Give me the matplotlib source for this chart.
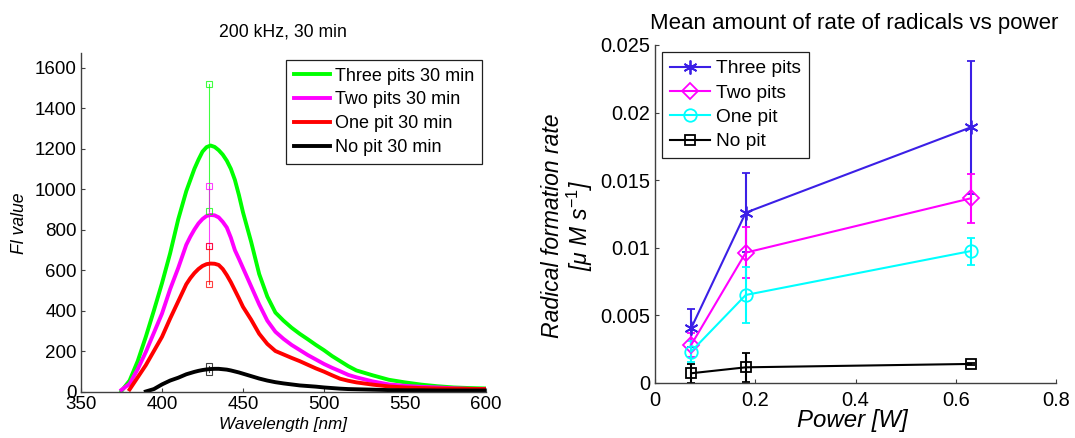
import numpy as np
import matplotlib
matplotlib.use('Agg')
import matplotlib.pyplot as plt

plt.rcParams['font.family'] = ['Liberation Sans', 'DejaVu Sans']
plt.rcParams['mathtext.fontset'] = 'custom'
plt.rcParams['mathtext.it'] = 'Liberation Sans:italic'
plt.rcParams['mathtext.rm'] = 'Liberation Sans'
plt.rcParams['mathtext.default'] = 'it'

# ---- left panel: emission spectra ----
wavelength = [370, 375, 380, 385, 390, 395, 400, 405, 410, 415, 417.5, 420, 422.5,
              425, 427.5, 430, 432.5, 435, 437.5, 440, 442.5, 445, 447.5, 450,
              455, 460, 465, 470, 475, 480, 485, 490, 495,
              500, 505, 510, 515, 520, 530, 540, 550, 560, 570, 580, 590, 600]
nan = np.nan
three_pits_30 = [nan, 3, 54, 150, 270, 400, 535, 682, 850, 990, 1045, 1100, 1145,
                 1185, 1207, 1215, 1208, 1192, 1170, 1140, 1100, 1045, 970, 885,
                 740, 580, 469, 390, 350, 315, 285, 258, 230,
                 204, 175, 150, 125, 104, 80, 58, 45, 34, 26, 20, 17, 15]
two_pits_30 = [nan, 8, 38, 110, 195, 290, 385, 505, 610, 725, 765, 800, 830,
               852, 867, 872, 870, 860, 838, 810, 760, 698, 655, 610,
               520, 430, 350, 295, 260, 230, 205, 180, 158,
               136, 117, 100, 82, 70, 50, 35, 28, 23, 20, 16, 13, 12]
one_pit_30 = [nan, nan, 10, 70, 130, 200, 270, 360, 445, 530, 560, 585, 605,
              620, 629, 632, 631, 625, 605, 575, 540, 500, 460, 418,
              355, 285, 235, 200, 183, 166, 150, 132, 114,
              98, 80, 63, 53, 45, 34, 25, 20, 17, 15, 14, 13, 12]
no_pit_30 = [nan, nan, nan, nan, 0, 12, 35, 54, 68, 85, 91, 97, 102,
             106, 109, 111, 112, 112, 110, 108, 104, 99, 94, 88,
             76, 64, 54, 46, 40, 35, 30, 27, 24,
             20, 17, 14, 12, 11, 9, 7, 6, 6, 5, 5, 5, 5]
spec_labels = ['Three pits 30 min', 'Two pits 30 min', 'One pit 30 min', 'No pit 30 min']
spec_colors = ['#00ff00', '#ff00ff', '#ff0000', '#000000']

# error bars at the peak
err_wl = 429
err_lo = [893, 718, 530, 94]
err_hi = [1519, 1017, 720, 124]

# ---- right panel: radical formation rate vs power ----
power = [0.072, 0.181, 0.63]
rate_three = [0.00404, 0.01260, 0.01891]
err_three = [0.00140, 0.00290, 0.00490]
rate_two = [0.00281, 0.00964, 0.01366]
err_two = [0.00090, 0.00190, 0.00182]
rate_one = [0.00232, 0.00651, 0.00976]
err_one = [0.00080, 0.00210, 0.00100]
rate_none = [0.00072, 0.00116, 0.00141]
err_none = [0.00070, 0.00108, 0.00010]
rate_labels = ['Three pits', 'Two pits', 'One pit', 'No pit']

W, H = 1075, 438
fig = plt.figure(figsize=(W / 100, H / 100), dpi=100)
spine_col = '#404040'


def style_axes(ax, ypad, xpad, size):
    for s in ['top', 'right']:
        ax.spines[s].set_visible(False)
    for s in ['left', 'bottom']:
        ax.spines[s].set_color(spine_col)
        ax.spines[s].set_linewidth(1.0)
    ax.tick_params(direction='in', length=3, width=0.8, color=spine_col,
                   labelsize=size)
    ax.tick_params(axis='y', pad=ypad)
    ax.tick_params(axis='x', pad=xpad)


# left axes
ax1 = fig.add_axes([81 / W, 1 - 391.5 / H, 405 / W, 338.5 / H])
ax1.set_xlim(350, 600)
ax1.set_ylim(0, 1672)
wl = np.array(wavelength)
for vals, lab, col in zip([three_pits_30, two_pits_30, one_pit_30, no_pit_30],
                          spec_labels, spec_colors):
    ax1.plot(wl, vals, color=col, lw=2.8, label=lab, solid_joinstyle='round')
for lo, hi, col in zip(err_lo, err_hi, spec_colors):
    ax1.plot([err_wl, err_wl], [lo, hi], color=col, lw=0.8, alpha=0.75,
             marker='s', ms=5, mfc='none', mew=0.8)
ax1.set_xticks([350, 400, 450, 500, 550, 600])
ax1.set_yticks(range(0, 1601, 200))
style_axes(ax1, 3, 3.5, 13.5)
leg1 = ax1.legend(loc='upper left', bbox_to_anchor=(286 / W, 1 - 60 / H),
                  bbox_transform=fig.transFigure, fontsize=13, fancybox=False,
                  edgecolor='#202020', framealpha=1, borderaxespad=0,
                  handlelength=2.0, handletextpad=0.3, labelspacing=0.38,
                  borderpad=0.42)
leg1.get_frame().set_linewidth(0.9)

fig.text(283 / W, 1 - 32 / H, '200 kHz, 30 min', ha='center', va='center', fontsize=12.7)
fig.text(283 / W, 1 - 425 / H, 'Wavelength [nm]', ha='center', va='center',
         fontsize=12.3, style='italic')
fig.text(19 / W, 1 - 223 / H, 'Fl value', ha='center', va='center', rotation=90,
         fontsize=12.7, style='italic')

# right axes
ax2 = fig.add_axes([655 / W, 1 - 383 / H, 401 / W, 338 / H])
ax2.set_xlim(0, 0.8)
ax2.set_ylim(0, 0.025)
series = [(rate_three, err_three, '#3b1fe6', (6, 2, 0), 10),
          (rate_two, err_two, '#ff00ff', 'D', 8),
          (rate_one, err_one, '#00ffff', 'o', 9),
          (rate_none, err_none, '#000000', 's', 7.5)]
handles = []
for (vals, err, col, mk, ms), lab in zip(series, rate_labels):
    cont = ax2.errorbar(power, vals, yerr=err, color=col, lw=1.5, elinewidth=1.5,
                        capsize=3, capthick=1.5, marker=mk, ms=ms, mfc='none',
                        mec=col, mew=1.3, label=lab)
    handles.append(cont[0])
ax2.set_xticks([0, 0.2, 0.4, 0.6, 0.8])
ax2.set_xticklabels(['0', '0.2', '0.4', '0.6', '0.8'])
ax2.set_yticks([0, 0.005, 0.01, 0.015, 0.02, 0.025])
ax2.set_yticklabels(['0', '0.005', '0.01', '0.015', '0.02', '0.025'])
style_axes(ax2, 3.5, 6, 14.4)
leg2 = ax2.legend(handles, rate_labels, loc='upper left',
                  bbox_to_anchor=(662 / W, 1 - 52 / H),
                  bbox_transform=fig.transFigure, fontsize=13.8, fancybox=False,
                  edgecolor='#202020', framealpha=1, borderaxespad=0,
                  handlelength=2.1, handletextpad=0.3, labelspacing=0.36,
                  borderpad=0.42)
leg2.get_frame().set_linewidth(0.9)

fig.text(854 / W, 1 - 23 / H, 'Mean amount of rate of radicals vs power',
         ha='center', va='center', fontsize=16)
fig.text(852 / W, 1 - 420 / H, 'Power [W]', ha='center', va='center',
         fontsize=17.3, style='italic')
fig.text(568 / W, 1 - 226 / H, 'Radical formation rate\n[μ M s$^{-1}$]',
         ha='center', va='center', rotation=90, fontsize=16.6, style='italic',
         linespacing=1.0)

fig.savefig('out.png', dpi=100, facecolor='white')
